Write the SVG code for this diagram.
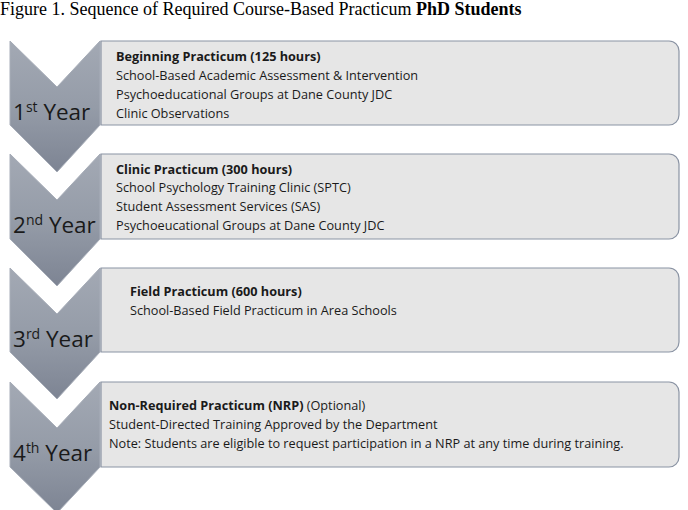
<svg xmlns="http://www.w3.org/2000/svg" width="688" height="510" viewBox="0 0 688 510">
<defs>
<linearGradient id="chev" x1="0" y1="0" x2="0" y2="1">
<stop offset="0" stop-color="#a3a9b4"/>
<stop offset="0.5" stop-color="#959ca8"/>
<stop offset="1" stop-color="#7d8493"/>
</linearGradient>
<style>
.title{font-family:"Liberation Serif","Times New Roman",serif;font-size:18px;fill:#000}
.chev{fill:url(#chev);stroke:#a7adb8;stroke-width:1}
.box{fill:#e6e6e6;stroke:#8a93a3;stroke-width:1.2}
.yr{font-family:"Open Sans","Liberation Sans",sans-serif;font-size:22.5px;fill:#1a1a1a}
.sup{font-size:14px}
.t{font-family:"Open Sans","Liberation Sans",sans-serif;font-size:12.7px;fill:#1a1a1a}
.b{font-weight:bold}
</style>
</defs>
<rect width="688" height="510" fill="#fff"/>
<text class="title" x="0" y="15">Figure 1. Sequence of Required Course-Based Practicum <tspan font-weight="bold">PhD Students</tspan></text>

<g id="year1">
<path class="chev" d="M10,41 L57,87 L100,41 L100,125 L57,172 L10,125 Z"/>
<text class="yr" x="13" y="120">1<tspan class="sup" dy="-8">st</tspan><tspan dy="8"> Year</tspan></text>
</g>
<g id="box1">
<path class="box" d="M101,41 H669 A10,10 0 0 1 679,51 V115 A10,10 0 0 1 669,125 H101 Z"/>
<text class="t b" x="116" y="61">Beginning Practicum (125 hours)</text>
<text class="t" x="116" y="80">School-Based Academic Assessment &amp; Intervention</text>
<text class="t" x="116" y="99">Psychoeducational Groups at Dane County JDC</text>
<text class="t" x="116" y="118">Clinic Observations</text>
</g>

<g id="year2">
<path class="chev" d="M10,154 L57,200 L100,154 L100,239 L57,286 L10,239 Z"/>
<text class="yr" x="13" y="233">2<tspan class="sup" dy="-8">nd</tspan><tspan dy="8"> Year</tspan></text>
</g>
<g id="box2">
<path class="box" d="M101,154 H669 A10,10 0 0 1 679,164 V229 A10,10 0 0 1 669,239 H101 Z"/>
<text class="t b" x="116" y="174">Clinic Practicum (300 hours)</text>
<text class="t" x="116" y="192">School Psychology Training Clinic (SPTC)</text>
<text class="t" x="116" y="211">Student Assessment Services (SAS)</text>
<text class="t" x="116" y="230">Psychoeucational Groups at Dane County JDC</text>
</g>

<g id="year3">
<path class="chev" d="M10,268 L57,314 L100,268 L100,352 L57,399 L10,352 Z"/>
<text class="yr" x="13" y="347">3<tspan class="sup" dy="-8">rd</tspan><tspan dy="8"> Year</tspan></text>
</g>
<g id="box3">
<path class="box" d="M101,268 H669 A10,10 0 0 1 679,278 V342 A10,10 0 0 1 669,352 H101 Z"/>
<text class="t b" x="130" y="296">Field Practicum (600 hours)</text>
<text class="t" x="130" y="315">School-Based Field Practicum in Area Schools</text>
</g>

<g id="year4">
<path class="chev" d="M10,382 L57,428 L100,382 L100,467 L57,513 L10,467 Z"/>
<text class="yr" x="13" y="461">4<tspan class="sup" dy="-8">th</tspan><tspan dy="8"> Year</tspan></text>
</g>
<g id="box4">
<path class="box" d="M101,382 H669 A10,10 0 0 1 679,392 V457 A10,10 0 0 1 669,467 H101 Z"/>
<text class="t" x="109" y="410"><tspan class="b">Non-Required Practicum (NRP)</tspan> (Optional)</text>
<text class="t" x="109" y="429">Student-Directed Training Approved by the Department</text>
<text class="t" x="109" y="448">Note: Students are eligible to request participation in a NRP at any time during training.</text>
</g>
<g id="connectors"/>
</svg>
